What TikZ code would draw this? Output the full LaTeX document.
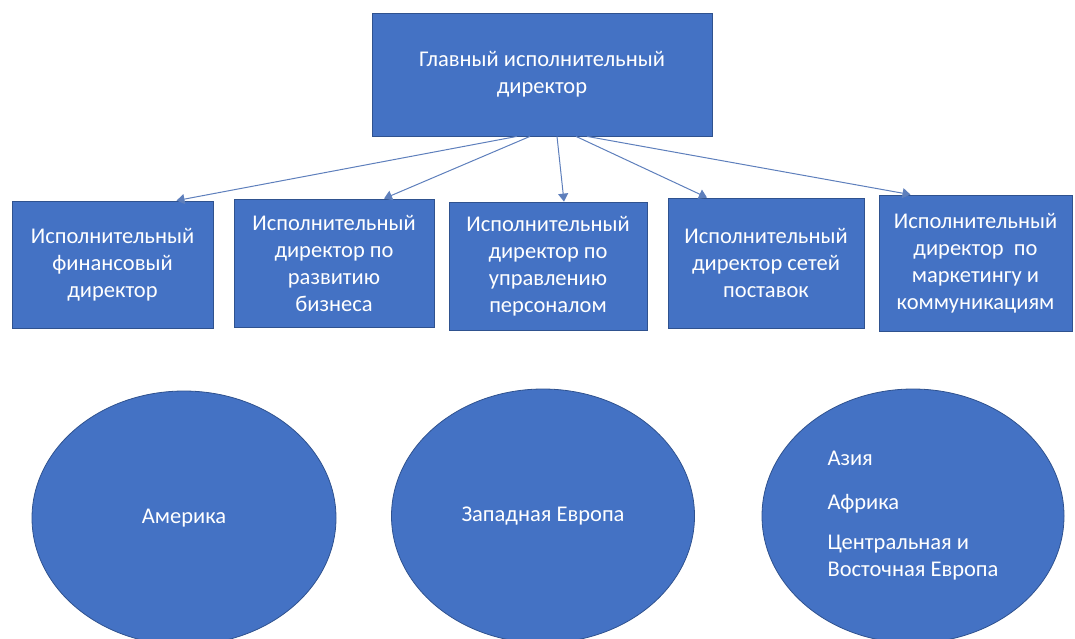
\documentclass[tikz,border=0pt]{standalone}
\usepackage{fontspec}
\setmainfont{Carlito}
\usetikzlibrary{arrows.meta,shapes.geometric}
\definecolor{boxblue}{HTML}{4472C4}
\definecolor{edgeblue}{HTML}{2F528F}
\definecolor{linkblue}{HTML}{5E7FBC}
\tikzset{
    unit/.style={rectangle, draw=edgeblue, line width=0.8pt, fill=boxblue,
        text=white, align=center, inner sep=0pt,
        font=\fontsize{22.5}{27}\selectfont},
    region/.style={ellipse, draw=edgeblue, line width=0.8pt, fill=boxblue,
        text=white, inner sep=0pt, font=\fontsize{22.5}{27}\selectfont},
    link/.style={draw=linkblue, line width=1pt, -{Triangle[width=10pt,length=8pt]}}
}
\begin{document}
\begin{tikzpicture}[x=1pt, y=-1pt]
        \useasboundingbox (0, 0) rectangle (1075, 639);

        \node (ceo) at (542, 74.5) [unit, minimum width=340pt, minimum height=123pt] {Главный исполнительный\\директор};

        \node (b-1) at (112.5, 264.5) [unit, minimum width=201pt, minimum height=127pt] {Исполнительный\\финансовый\\директор};
        \node (b-2) at (334, 263) [unit, minimum width=200pt, minimum height=128pt] {Исполнительный\\директор по\\развитию\\бизнеса};
        \node (b-3) at (548, 266) [unit, minimum width=198pt, minimum height=128pt] {Исполнительный\\директор по\\управлению\\персоналом};
        \node (b-4) at (766, 263) [unit, minimum width=196pt, minimum height=130pt] {Исполнительный\\директор сетей\\поставок};
        \node (b-5) at (975.5, 263) [unit, minimum width=193pt, minimum height=136pt] {Исполнительный\\директор\ \ по\\маркетингу и\\коммуникациям};

        \node (r-1) at (184, 518) [region, minimum width=304pt, minimum height=254pt] {Америка};
        \node (r-2) at (543, 516) [region, minimum width=303pt, minimum height=254pt] {Западная Европа};
        \node (r-3) at (913, 516) [region, minimum width=302pt, minimum height=254pt, align=left] {Азия\\[17pt]Африка\\[13pt]Центральная и\\Восточная Европа};

        \draw[link] ([xshift=-25pt]ceo.south) -- ([xshift=64pt]b-1.north);
        \draw[link] ([xshift=-12pt]ceo.south) -- ([xshift=50pt]b-2.north);
        \draw[link] ([xshift=15pt]ceo.south) -- ([xshift=16pt]b-3.north);
        \draw[link] ([xshift=34pt]ceo.south) -- ([xshift=-59pt]b-4.north);
        \draw[link] ([xshift=45pt]ceo.south) -- ([xshift=-65pt]b-5.north);

    \end{tikzpicture}
\end{document}
